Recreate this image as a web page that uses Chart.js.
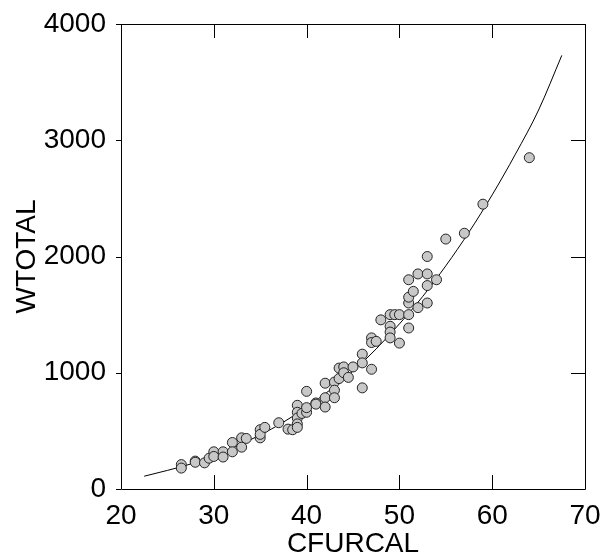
<!DOCTYPE html>
<html>
<head>
<meta charset="utf-8">
<script src="https://cdn.jsdelivr.net/npm/chart.js@4.4.0/dist/chart.umd.min.js"></script>
<style>
html,body{margin:0;padding:0;background:#fff;}
#wrap{width:603px;height:558px;position:relative;}
</style>
</head>
<body>
<div id="wrap"><canvas id="c" width="603" height="558"></canvas></div>
<script>
const cfurcal = [26.5,26.5,28,28,29,29.5,30,30,31,31,32,32,33,33,33.5,35,35,35,35.5,37,38,38.5,39,39,39,39,39,39.5,40,40,40,41,41,42,42,42,43,43,43,43.5,43.5,44,44,44.5,45,46,46,46,47,47,47,47.5,48,49,49,49,49,49.5,50,50,51,51,51,51,51,51.5,52,52,53,53,53,53,54,55,57,59,64];
const wtotal  = [210,180,240,230,225,265,320,280,320,275,400,320,440,360,435,510,440,470,530,570,515,510,720,660,610,560,530,650,840,660,700,740,730,910,785,705,920,850,785,950,1040,1050,1000,960,1050,1160,1085,870,1300,1260,1030,1270,1455,1500,1400,1350,1300,1500,1500,1255,1500,1385,1600,1650,1800,1700,1850,1560,2000,1850,1750,1600,1800,2150,2200,2450,2850];
const curveX = [22.5,25,27.5,30,32.5,35,37.5,40,42.5,45,47.5,50,52.5,55,57.5,60,62.5,65,67.5];
const curveY = [110,160,215,285,370,465,575,705,850,1015,1205,1420,1655,1920,2210,2530,2880,3260,3730];
const xTicks = [20,30,40,50,60,70];
const yTicks = [0,1000,2000,3000,4000];

const FONT = "'Liberation Sans', Arial, sans-serif";

const frame = {
  id: 'frame',
  afterDatasetsDraw(chart) {
    const {ctx, chartArea: a, scales: {x, y}} = chart;
    ctx.save();
    ctx.strokeStyle = '#000';
    ctx.lineWidth = 1;
    ctx.beginPath();
    ctx.rect(Math.round(a.left)+0.5, Math.round(a.top)+0.5, Math.round(a.right-a.left), Math.round(a.bottom-a.top));
    ctx.stroke();
    const L = 14;
    ctx.beginPath();
    xTicks.forEach(v => {
      const px = Math.round(x.getPixelForValue(v)) + 0.5;
      ctx.moveTo(px, a.bottom); ctx.lineTo(px, a.bottom - L);
      ctx.moveTo(px, a.top); ctx.lineTo(px, a.top + L);
    });
    yTicks.forEach(v => {
      const py = Math.round(y.getPixelForValue(v)) + 0.5;
      ctx.moveTo(a.right, py); ctx.lineTo(a.right - L, py);
      ctx.moveTo(a.left, py); ctx.lineTo(a.left - 5, py);
    });
    ctx.stroke();
    ctx.restore();
  }
};

new Chart(document.getElementById('c'), {
  type: 'scatter',
  data: {
    datasets: [
      {
        type: 'line',
        data: curveX.map((v, i) => ({x: v, y: curveY[i]})),
        borderColor: '#000',
        borderWidth: 1,
        pointRadius: 0,
        fill: false,
        cubicInterpolationMode: 'monotone',
        order: 2
      },
      {
        data: cfurcal.map((v, i) => ({x: v, y: wtotal[i]})),
        pointRadius: 5,
        pointBackgroundColor: '#c8c8c8',
        pointBorderColor: '#222',
        pointBorderWidth: 1,
        order: 1
      }
    ]
  },
  options: {
    responsive: false,
    animation: false,
    layout: {padding: {top: 24, right: 18, left: 0, bottom: 0}},
    plugins: {legend: {display: false}, tooltip: {enabled: false}},
    scales: {
      x: {
        type: 'linear', min: 20, max: 70,
        afterBuildTicks: s => { s.ticks = xTicks.map(v => ({value: v})); },
        afterFit: s => { s.height = 69; },
        grid: {display: false},
        border: {display: false},
        ticks: {color: '#000', font: {family: FONT, size: 28}, padding: 2, maxRotation: 0, callback: v => String(v)},
        title: {display: true, text: 'CFURCAL', color: '#000', font: {family: FONT, size: 28}, padding: {top: 0, bottom: -3}}
      },
      y: {
        type: 'linear', min: 0, max: 4000,
        afterBuildTicks: s => { s.ticks = yTicks.map(v => ({value: v})); },
        afterFit: s => { s.width = 121; },
        grid: {display: false},
        border: {display: false},
        ticks: {color: '#000', font: {family: FONT, size: 28}, padding: 7, callback: v => String(v)},
        title: {display: true, text: 'WTOTAL', color: '#000', font: {family: FONT, size: 28}, padding: {top: 10, bottom: 0}}
      }
    }
  },
  plugins: [frame]
});
</script>
</body>
</html>
